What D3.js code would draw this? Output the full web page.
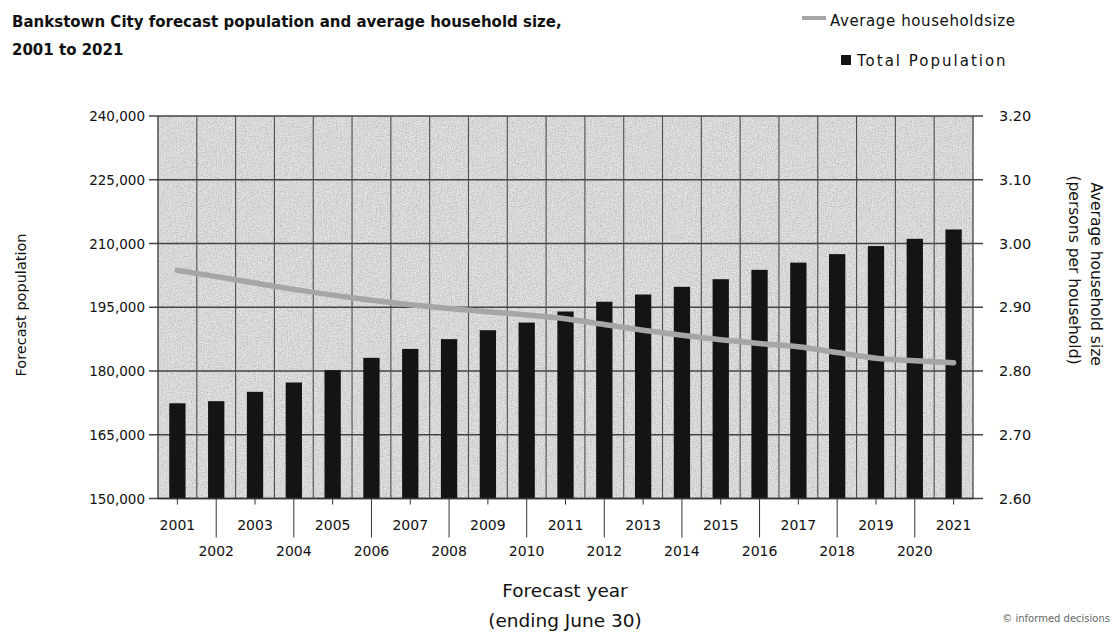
<!DOCTYPE html>
<html><head><meta charset="utf-8">
<script src="https://cdn.jsdelivr.net/npm/d3@7"></script>
<style>body{margin:0;background:#fff}svg{display:block}text{font-family:"DejaVu Sans",sans-serif;fill:#111}</style>
</head><body><svg id="c" width="1112" height="632"></svg>
<script>
const years = ["2001","2002","2003","2004","2005","2006","2007","2008","2009","2010","2011","2012","2013","2014","2015","2016","2017","2018","2019","2020","2021"];
const population = [172400,172900,175100,177300,180200,183100,185200,187500,189600,191400,194000,196300,198000,199800,201600,203800,205500,207500,209400,211100,213300];
const householdSize = [2.958,2.948,2.938,2.928,2.919,2.911,2.904,2.898,2.893,2.888,2.882,2.873,2.864,2.856,2.849,2.843,2.838,2.829,2.820,2.816,2.813];
const popTicks = [150000,165000,180000,195000,210000,225000,240000];
const sizeTicks = [2.6,2.7,2.8,2.9,3.0,3.1,3.2];

const svg = d3.select("#c");
const L=158,R=973,T=116,B=498.5;
const x = d3.scaleBand().domain(years).range([L,R]).padding(0);
const yL = d3.scaleLinear().domain([150000,240000]).range([B,T]);
const yR = d3.scaleLinear().domain([2.6,3.2]).range([B,T]);

// background with grain
const defs = svg.append("defs");
const f = defs.append("filter").attr("id","grain").attr("x",0).attr("y",0).attr("width","100%").attr("height","100%");
f.append("feTurbulence").attr("type","fractalNoise").attr("baseFrequency",0.8).attr("numOctaves",2).attr("seed",3).attr("result","n");
f.append("feColorMatrix").attr("in","n").attr("type","saturate").attr("values",0).attr("result","g");
f.append("feComponentTransfer").attr("in","g").call(s=>{
  s.append("feFuncR").attr("type","linear").attr("slope",1.4).attr("intercept",0.08);
  s.append("feFuncG").attr("type","linear").attr("slope",1.4).attr("intercept",0.08);
  s.append("feFuncB").attr("type","linear").attr("slope",1.4).attr("intercept",0.08);
  s.append("feFuncA").attr("type","linear").attr("slope",0).attr("intercept",1);
});
svg.append("rect").attr("x",L).attr("y",T).attr("width",R-L).attr("height",B-T).attr("fill","#c8c8c8");
svg.append("rect").attr("x",L).attr("y",T).attr("width",R-L).attr("height",B-T).attr("fill","#c8c8c8").attr("filter","url(#grain)").attr("opacity",0.55);

// gridlines
const g = svg.append("g");
g.selectAll(".hg").data(popTicks).join("line")
 .attr("x1",L-9).attr("x2",R+10).attr("y1",d=>yL(d)).attr("y2",d=>yL(d))
 .attr("stroke","#444").attr("stroke-width",1.3);
g.selectAll(".vg").data(years.slice(1)).join("line")
 .attr("x1",d=>x(d)).attr("x2",d=>x(d)).attr("y1",T).attr("y2",B)
 .attr("stroke","#4e4e4e").attr("stroke-width",1.1);
g.append("line").attr("x1",L).attr("x2",L).attr("y1",T).attr("y2",B).attr("stroke","#333").attr("stroke-width",1.3);
g.append("line").attr("x1",R).attr("x2",R).attr("y1",T).attr("y2",B).attr("stroke","#444").attr("stroke-width",1.3);

// bars
const bw = x.bandwidth()*0.42;
svg.selectAll(".bar").data(years).join("rect")
 .attr("x",(d)=>x(d)+x.bandwidth()/2-bw/2).attr("width",bw)
 .attr("y",(d,i)=>yL(population[i])).attr("height",(d,i)=>B-yL(population[i]))
 .attr("fill","#141414");

// line
const line = d3.line().x((d,i)=>x(years[i])+x.bandwidth()/2).y(d=>yR(d)).curve(d3.curveMonotoneX);
svg.append("path").datum(householdSize).attr("d",line).attr("fill","none")
 .attr("stroke","#a6a6a6").attr("stroke-width",5.5).attr("stroke-linecap","round");

// axis line bottom
svg.append("line").attr("x1",L).attr("x2",R).attr("y1",B).attr("y2",B).attr("stroke","#333").attr("stroke-width",1.3);

// left axis labels
svg.selectAll(".yl").data(popTicks).join("text")
 .attr("x",145).attr("y",d=>yL(d)+5).attr("text-anchor","end").style("font-size","13.5px")
 .text(d=>d3.format(",")(d));
// right labels
svg.selectAll(".yr").data(sizeTicks).join("text")
 .attr("x",999).attr("y",d=>yR(d)+5).attr("text-anchor","start").style("font-size","14.5px")
 .text(d=>d3.format(".2f")(d));

// x ticks
svg.selectAll(".xt").data(years).join("line")
 .attr("x1",d=>x(d)+x.bandwidth()/2).attr("x2",d=>x(d)+x.bandwidth()/2)
 .attr("y1",B).attr("y2",(d,i)=>i%2? B+39 : B+6)
 .attr("stroke","#333").attr("stroke-width",1);
svg.selectAll(".xl").data(years).join("text")
 .attr("x",d=>x(d)+x.bandwidth()/2).attr("y",(d,i)=>i%2? 556 : 530)
 .attr("text-anchor","middle").style("font-size","14px").text(d=>d);

// axis titles
svg.append("text").attr("transform",`translate(26,305) rotate(-90)`).attr("text-anchor","middle").style("font-size","14.5px").text("Forecast population");
svg.append("text").attr("transform",`translate(1091,274) rotate(90)`).attr("text-anchor","middle").style("font-size","15.5px").text("Average household size");
svg.append("text").attr("transform",`translate(1069,270) rotate(90)`).attr("text-anchor","middle").style("font-size","15.5px").text("(persons per household)");
svg.append("text").attr("x",565).attr("y",597).attr("text-anchor","middle").style("font-size","18.5px").text("Forecast year");
svg.append("text").attr("x",565).attr("y",627).attr("text-anchor","middle").style("font-size","18.5px").text("(ending June 30)");

// title
svg.append("text").attr("x",12).attr("y",27).style("font-size","15px").style("font-weight","bold").text("Bankstown City forecast population and average household size,");
svg.append("text").attr("x",12).attr("y",55).style("font-size","15px").style("font-weight","bold").text("2001 to 2021");

// legend
svg.append("line").attr("x1",802).attr("x2",826).attr("y1",18).attr("y2",18).attr("stroke","#a6a6a6").attr("stroke-width",4);
svg.append("text").attr("x",830).attr("y",26).style("font-size","15px").style("letter-spacing","0.6px").text("Average householdsize");
svg.append("rect").attr("x",841).attr("y",55).attr("width",10).attr("height",10).attr("fill","#141414");
svg.append("text").attr("x",857).attr("y",66).style("font-size","15px").style("letter-spacing","2px").text("Total Population");

svg.append("text").attr("x",1110).attr("y",622).attr("text-anchor","end").style("font-size","10px").style("fill","#666").text("© informed decisions");
</script></body></html>
